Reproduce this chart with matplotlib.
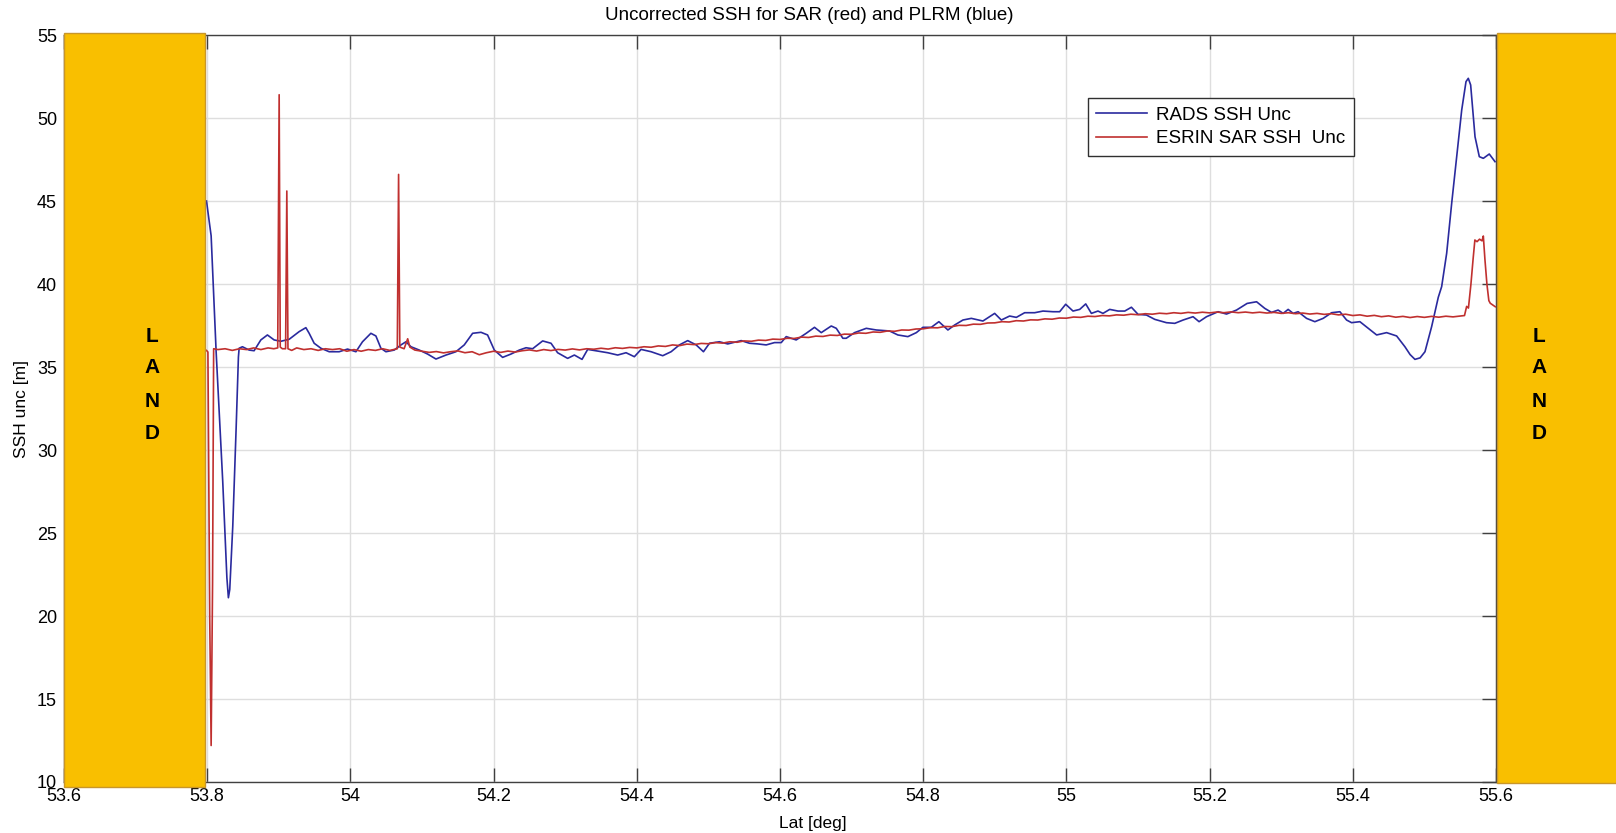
import matplotlib
matplotlib.use("Agg")
import matplotlib.pyplot as plt
from matplotlib.patches import Rectangle

plt.rcParams["font.family"] = ["Liberation Sans", "DejaVu Sans"]

# ---- data ----
# PLRM (RADS) uncorrected SSH, blue
rads_lat = [
    53.799, 53.8055, 53.8125, 53.8217, 53.8275, 53.8296, 53.8315, 53.8357, 53.8404, 53.8436,
    53.8446, 53.8492, 53.8586, 53.8655, 53.8749, 53.8841, 53.8935, 53.9029, 53.9145, 53.9284,
    53.9378, 53.9424, 53.9494, 53.9588, 53.9704, 53.9843, 53.9960, 54.0077, 54.0169, 54.0286,
    54.0356, 54.0426, 54.0496, 54.0612, 54.0706, 54.0776, 54.0846, 54.0962, 54.1078, 54.1195,
    54.1335, 54.1474, 54.1590, 54.1707, 54.1824, 54.1916, 54.2010, 54.2126, 54.2243, 54.2359,
    54.2453, 54.2545, 54.2685, 54.2802, 54.2894, 54.3034, 54.3128, 54.3235, 54.3314, 54.3453,
    54.3593, 54.3733, 54.3850, 54.3966, 54.4060, 54.4200, 54.4362, 54.4479, 54.4595, 54.4711,
    54.4829, 54.4931, 54.5015, 54.5154, 54.5270, 54.5458, 54.5574, 54.5690, 54.5807, 54.5923,
    54.6017, 54.6087, 54.6226, 54.6366, 54.6482, 54.6576, 54.6716, 54.6786, 54.6878, 54.6925,
    54.7041, 54.7205, 54.7344, 54.7530, 54.7646, 54.7786, 54.7904, 54.7996, 54.8113, 54.8219,
    54.8345, 54.8439, 54.8555, 54.8672, 54.8834, 54.8998, 54.9091, 54.9207, 54.9301, 54.9417,
    54.9557, 54.9673, 54.9813, 54.9906, 54.9990, 55.0092, 55.0186, 55.0270, 55.0349, 55.0441,
    55.0511, 55.0605, 55.0721, 55.0815, 55.0908, 55.1001, 55.1118, 55.1234, 55.1397, 55.1514,
    55.1630, 55.1769, 55.1853, 55.1957, 55.2119, 55.2236, 55.2376, 55.2524, 55.2656, 55.2771,
    55.2865, 55.2957, 55.3027, 55.3097, 55.3167, 55.3237, 55.3354, 55.3470, 55.3586, 55.3704,
    55.3820, 55.3913, 55.3983, 55.4099, 55.4215, 55.4333, 55.4472, 55.4612, 55.4728, 55.4800,
    55.4868, 55.4940, 55.5008, 55.5101, 55.5194, 55.5241, 55.5311, 55.5381, 55.5451, 55.5521,
    55.5581, 55.5613, 55.5646, 55.5707, 55.5767, 55.5823, 55.5906, 55.5986,
]
rads_ssh = [
    45.0, 42.9, 35.9, 28.1, 22.3, 21.1, 21.6, 25.4, 31.3, 35.6,
    36.13, 36.22, 36.02, 35.98, 36.63, 36.93, 36.63, 36.55, 36.67, 37.13,
    37.37, 37.03, 36.43, 36.13, 35.92, 35.92, 36.08, 35.92, 36.52, 37.03,
    36.87, 36.13, 35.92, 36.02, 36.33, 36.52, 36.22, 36.02, 35.78, 35.48,
    35.72, 35.92, 36.33, 37.03, 37.09, 36.93, 36.02, 35.58, 35.78, 36.02,
    36.16, 36.10, 36.57, 36.43, 35.86, 35.52, 35.72, 35.46, 36.06, 35.96,
    35.86, 35.72, 35.86, 35.62, 36.06, 35.92, 35.68, 35.92, 36.33, 36.59,
    36.33, 35.92, 36.43, 36.52, 36.39, 36.59, 36.43, 36.39, 36.33, 36.47,
    36.47, 36.83, 36.63, 37.03, 37.39, 37.07, 37.47, 37.33, 36.73, 36.73,
    37.07, 37.33, 37.23, 37.17, 36.93, 36.83, 37.07, 37.39, 37.39, 37.73,
    37.23, 37.53, 37.83, 37.93, 37.77, 38.23, 37.83, 38.07, 37.99, 38.27,
    38.27, 38.37, 38.33, 38.33, 38.78, 38.37, 38.47, 38.80, 38.23, 38.37,
    38.23, 38.47, 38.37, 38.37, 38.60, 38.17, 38.13, 37.87, 37.67, 37.63,
    37.83, 38.03, 37.73, 38.03, 38.33, 38.19, 38.43, 38.83, 38.93, 38.53,
    38.29, 38.43, 38.23, 38.47, 38.23, 38.33, 37.93, 37.73, 37.93, 38.27,
    38.33, 37.83, 37.67, 37.73, 37.33, 36.93, 37.07, 36.87, 36.22, 35.75,
    35.46, 35.55, 35.92, 37.43, 39.2, 39.84, 41.85, 44.86, 47.67, 50.48,
    52.19, 52.39, 51.99, 48.87, 47.67, 47.57, 47.83, 47.37,
]

# ESRIN SAR uncorrected SSH, red
sar_lat = [
    53.799, 53.801, 53.8035, 53.8055, 53.8075, 53.809, 53.815, 53.825, 53.835, 53.845,
    53.855, 53.865, 53.875, 53.885, 53.893, 53.8985, 53.9005, 53.902, 53.905, 53.9095,
    53.9112, 53.9128, 53.918, 53.925, 53.935, 53.945, 53.955, 53.965, 53.975, 53.985,
    53.995, 54.005, 54.015, 54.025, 54.035, 54.045, 54.055, 54.0655, 54.0673, 54.069,
    54.075, 54.080, 54.083,
    54.09, 54.10, 54.11, 54.12, 54.13, 54.14, 54.15, 54.16, 54.17, 54.18,
    54.19, 54.20, 54.21, 54.22, 54.23, 54.24, 54.25, 54.26, 54.27, 54.28,
    54.29, 54.30, 54.31, 54.32, 54.33, 54.34, 54.35, 54.36, 54.37, 54.38,
    54.39, 54.40, 54.41, 54.42, 54.43, 54.44, 54.45, 54.46, 54.47, 54.48,
    54.49, 54.50, 54.51, 54.52, 54.53, 54.54, 54.55, 54.56, 54.57, 54.58,
    54.59, 54.60, 54.61, 54.62, 54.63, 54.64, 54.65, 54.66, 54.67, 54.68,
    54.69, 54.70, 54.71, 54.72, 54.73, 54.74, 54.75, 54.76, 54.77, 54.78,
    54.79, 54.80, 54.81, 54.82, 54.83, 54.84, 54.85, 54.86, 54.87, 54.88,
    54.89, 54.90, 54.91, 54.92, 54.93, 54.94, 54.95, 54.96, 54.97, 54.98,
    54.99, 55.00, 55.01, 55.02, 55.03, 55.04, 55.05, 55.06, 55.07, 55.08,
    55.09, 55.10, 55.11, 55.12, 55.13, 55.14, 55.15, 55.16, 55.17, 55.18,
    55.19, 55.20, 55.21, 55.22, 55.23, 55.24, 55.25, 55.26, 55.27, 55.28,
    55.29, 55.30, 55.31, 55.32, 55.33, 55.34, 55.35, 55.36, 55.37, 55.38,
    55.39, 55.40, 55.41, 55.42, 55.43, 55.44, 55.45, 55.46, 55.47, 55.48,
    55.49, 55.50, 55.51, 55.52, 55.53, 55.54, 55.55,
    55.556, 55.559, 55.5615, 55.565, 55.568, 55.5705, 55.5735, 55.577, 55.5805, 55.5823,
    55.5845, 55.5873, 55.590, 55.592, 55.599,
]
sar_ssh = [
    36.0, 35.9, 20.0, 12.2, 22.0, 36.1, 36.05, 36.1, 36.0, 36.1,
    36.05, 36.15, 36.05, 36.15, 36.1, 36.15, 51.4, 36.2, 36.1, 36.1,
    45.6, 36.1, 36.0, 36.15, 36.05, 36.1, 36.0, 36.1, 36.05, 36.1,
    35.95, 36.05, 35.95, 36.05, 36.0, 36.1, 36.0, 36.1, 46.6, 36.2,
    36.1, 36.7, 36.2,
    36.02, 35.95, 35.88, 35.93, 35.85, 35.92, 35.97, 35.86, 35.92, 35.74,
    35.86, 35.95, 35.88, 35.96, 35.90, 35.98, 36.03, 35.96, 36.05, 35.99,
    36.06, 36.02, 36.09, 36.03, 36.10, 36.07, 36.13, 36.08, 36.16, 36.12,
    36.18, 36.15, 36.22, 36.19, 36.27, 36.24, 36.33, 36.29, 36.38, 36.35,
    36.42, 36.40, 36.47, 36.44, 36.52, 36.49, 36.57, 36.55, 36.62, 36.60,
    36.68, 36.66, 36.73, 36.72, 36.80, 36.78, 36.86, 36.84, 36.92, 36.90,
    36.98, 36.97, 37.05, 37.03, 37.11, 37.09, 37.17, 37.15, 37.23, 37.22,
    37.29, 37.30, 37.37, 37.36, 37.44, 37.43, 37.51, 37.50, 37.58, 37.57,
    37.65, 37.66, 37.73, 37.71, 37.79, 37.77, 37.84, 37.83, 37.90, 37.88,
    37.95, 37.94, 38.01, 37.99, 38.06, 38.04, 38.10, 38.08, 38.14, 38.12,
    38.18, 38.15, 38.21, 38.18, 38.24, 38.21, 38.27, 38.23, 38.29, 38.25,
    38.30, 38.26, 38.31, 38.27, 38.32, 38.27, 38.31, 38.26, 38.30, 38.25,
    38.29, 38.23, 38.27, 38.21, 38.25, 38.19, 38.23, 38.17, 38.21, 38.14,
    38.18, 38.10, 38.14, 38.06, 38.11, 38.03, 38.08, 38.00, 38.05, 37.98,
    38.04, 37.99, 38.05, 38.00, 38.06, 38.02, 38.07,
    38.1, 38.65, 38.55, 40.0, 41.5, 42.65, 42.55, 42.7, 42.6, 42.89,
    41.5, 40.0, 39.0, 38.84, 38.63,
]

x_ticks = [53.6, 53.8, 54.0, 54.2, 54.4, 54.6, 54.8, 55.0, 55.2, 55.4, 55.6]
x_tick_labels = ["53.6", "53.8", "54", "54.2", "54.4", "54.6", "54.8", "55", "55.2", "55.4", "55.6"]
y_ticks = [10, 15, 20, 25, 30, 35, 40, 45, 50, 55]

land_left = (53.6, 53.797)
land_right = (55.601, 55.8)
land_letters = ["L", "A", "N", "D"]
land_letter_y = [36.83, 34.94, 32.91, 31.02]

fig = plt.figure(figsize=(16.16, 8.33), dpi=100)
ax = fig.add_axes([64 / 1616, 1 - 782 / 833, (1496 - 64) / 1616, (782 - 35) / 833])

ax.plot(rads_lat, rads_ssh, color="#2a2a9e", lw=1.2, label="RADS SSH Unc", zorder=3)
ax.plot(sar_lat, sar_ssh, color="#c0302f", lw=1.2, label="ESRIN SAR SSH  Unc", zorder=4)

ax.set_xlim(53.6, 55.6)
ax.set_ylim(10, 55)
ax.set_xticks(x_ticks)
ax.set_xticklabels(x_tick_labels)
ax.set_yticks(y_ticks)
ax.grid(True, color="#dedede", lw=1.0)
ax.set_axisbelow(True)
ax.tick_params(direction="in", length=10, width=1.0, color="#404040",
               top=True, right=True, labelsize=13, pad=4)
ax.tick_params(axis="y", pad=5)
for s in ax.spines.values():
    s.set_color("#404040")
    s.set_linewidth(1.0)

# title and x label sit on the figure centre in the original, not the axes centre
ax.set_title("Uncorrected SSH for SAR (red) and PLRM (blue)", fontsize=13.5, pad=11,
             x=(809 - 64) / 1432)
ax.set_xlabel("Lat [deg]", fontsize=12.5, labelpad=8, x=(813 - 64) / 1432)
ax.set_ylabel("SSH unc [m]", fontsize=12.5, labelpad=6)

# land boxes on both ends of the track
for x0, x1, y0, y1 in [(land_left[0], land_left[1], 9.7, 55.12),
                       (land_right[0], land_right[1], 9.95, 55.12)]:
    ax.add_patch(Rectangle((x0, y0), x1 - x0, y1 - y0, facecolor="#f9bf00",
                           edgecolor="#c8962a", lw=1.0, clip_on=False, zorder=10))

for xc in [53.723, 55.660]:
    for letter, yc in zip(land_letters, land_letter_y):
        ax.text(xc, yc, letter, ha="center", va="center", fontsize=15,
                fontweight="bold", color="black", zorder=11, clip_on=False)

leg = ax.legend(loc="upper left", bbox_to_anchor=(0.7151, 0.9157), fontsize=13.5,
                frameon=True, fancybox=False, framealpha=1, edgecolor="#303030",
                borderaxespad=0, borderpad=0.45, labelspacing=0.35,
                handlelength=2.7, handletextpad=0.5)
leg.get_frame().set_linewidth(1.0)

fig.savefig("out.png", dpi=100)
